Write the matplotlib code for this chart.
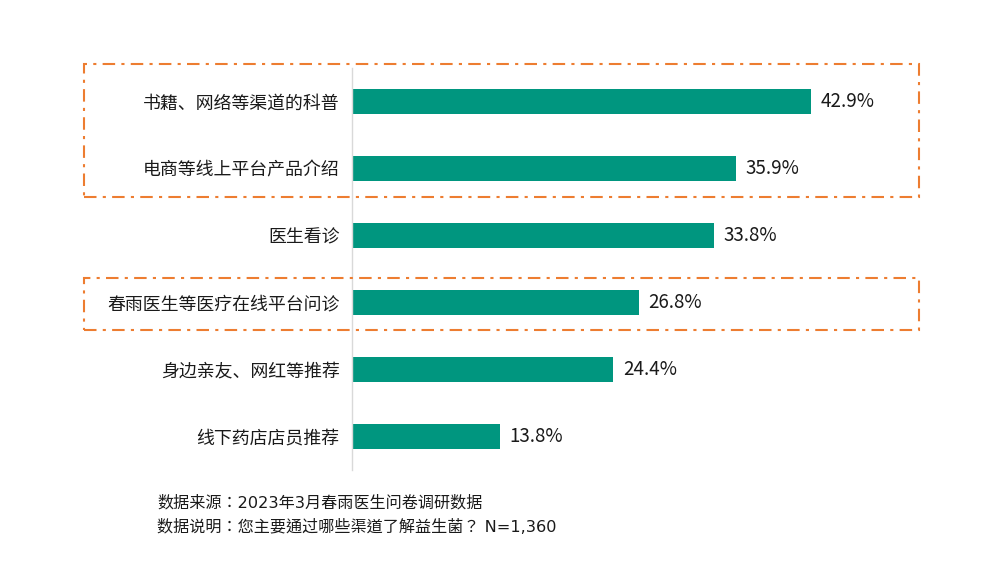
import matplotlib
matplotlib.use("Agg")
import matplotlib.pyplot as plt
from matplotlib.patches import Rectangle

plt.rcParams['font.family'] = ['Noto Sans CJK SC', 'DejaVu Sans']

categories = ["书籍、网络等渠道的科普", "电商等线上平台产品介绍", "医生看诊",
              "春雨医生等医疗在线平台问诊", "身边亲友、网红等推荐", "线下药店店员推荐"]
values = [42.9, 35.9, 33.8, 26.8, 24.4, 13.8]
footer_lines = ["数据来源：2023年3月春雨医生问卷调研数据",
                "数据说明：您主要通过哪些渠道了解益生菌？ N=1,360"]

W, H = 989, 584
fig = plt.figure(figsize=(W/100, H/100), dpi=100)
ax_left, ax_right = 352, 887
ax_top, ax_bottom = 68, 470
ax = fig.add_axes([ax_left/W, 1-ax_bottom/H, (ax_right-ax_left)/W, (ax_bottom-ax_top)/H])

y = list(range(len(categories)))
ax.barh(y, values, height=0.36, color="#00967F")
ax.set_ylim(len(categories)-0.5, -0.5)
ax.set_xlim(0, 50)
for s in ["top", "right", "bottom"]:
    ax.spines[s].set_visible(False)
ax.spines["left"].set_color("#D9D9D9")
ax.spines["left"].set_linewidth(1)
ax.set_xticks([])
ax.set_yticks(y)
ax.set_yticklabels(categories, fontsize=12.9, color="#1a1a1a")
ax.tick_params(axis="y", length=0, pad=9)
for yi, v in zip(y, values):
    ax.annotate(f"{v}%", (v, yi), xytext=(7, 0), textcoords="offset points",
                va="center", ha="left", fontsize=13.5, color="#1a1a1a")

def box(x0, y0, x1, y1):
    r = Rectangle((x0/W, 1-y1/H), (x1-x0)/W, (y1-y0)/H, transform=fig.transFigure,
                  fill=False, edgecolor="#ED7D31", linewidth=1.5,
                  linestyle=(0, (6, 3, 1.5, 3)))
    fig.add_artist(r)

box(84, 64, 919, 197)
box(84, 278, 919, 330)

ffam = ['DejaVu Sans', 'Noto Sans CJK TC']
fig.text(157/W, 1-503/H, footer_lines[0], fontsize=11.6, va="center", ha="left",
         color="#1a1a1a", family=ffam)
fig.text(157/W, 1-527/H, footer_lines[1], fontsize=11.6, va="center", ha="left",
         color="#1a1a1a", family=ffam)

fig.savefig("out.png", dpi=100)
